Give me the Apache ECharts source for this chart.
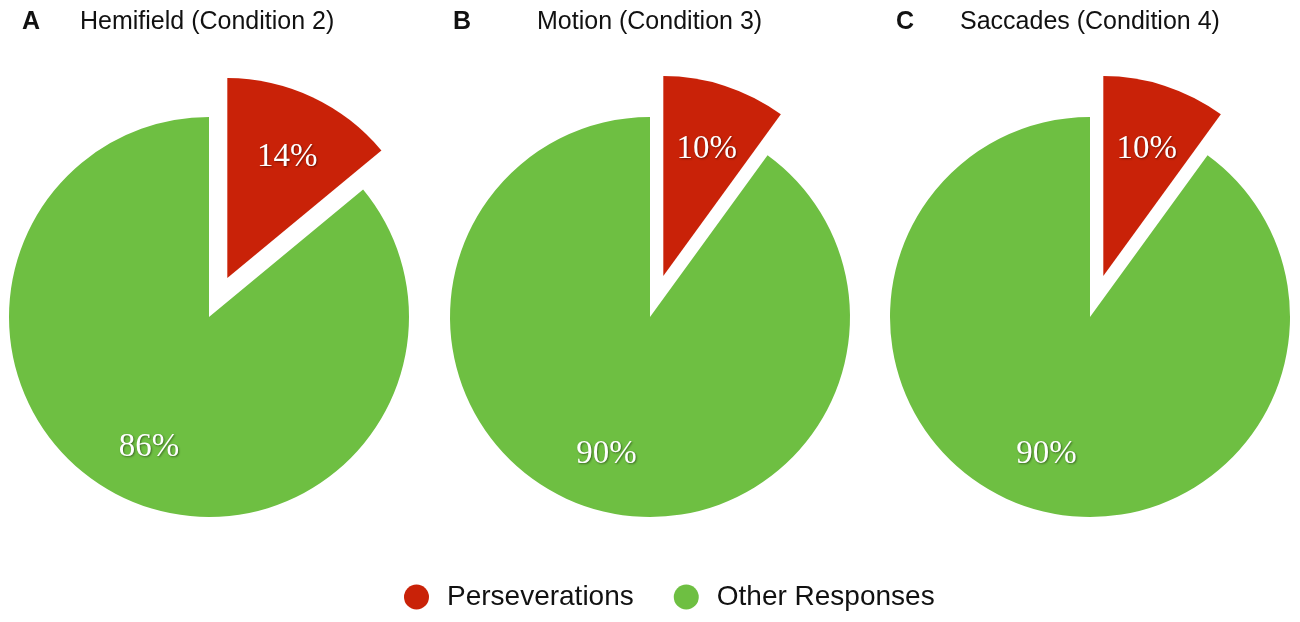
<!DOCTYPE html>
<html>
<head>
<meta charset="utf-8">
<script src="https://cdn.jsdelivr.net/npm/echarts@6/dist/echarts.min.js"></script>
<style>
  html, body { margin: 0; padding: 0; background: #fff; }
  #chart { width: 1300px; height: 622px; }
</style>
</head>
<body>
<div id="chart"></div>
<script>
var categories = ["Perseverations", "Other Responses"];
var panelLetters = ["A", "B", "C"];
var panelTitles = ["Hemifield (Condition 2)", "Motion (Condition 3)", "Saccades (Condition 4)"];
var perseverations = [14, 10, 10];
var otherResponses = [86, 90, 90];
var colors = ["#c92208", "#6ebf42"];

var centersX = [209, 650, 1090];
var letterX = [22, 453, 896];
var titleX = [80, 537, 960];
// nudge the percentage labels a little lower
var labelDy = [7, 3];

var chart = echarts.init(document.getElementById("chart"));

var titles = [], series = [];
for (var i = 0; i < 3; i++) {
    titles.push({
        text: panelLetters[i], left: letterX[i], top: 9, padding: 0,
        textStyle: { fontFamily: "Liberation Sans", fontSize: 25, fontWeight: "bold", color: "#111", lineHeight: 26 }
    });
    titles.push({
        text: panelTitles[i], left: titleX[i], top: 9, padding: 0,
        textStyle: { fontFamily: "Liberation Sans", fontSize: 25, fontWeight: "normal", color: "#111", lineHeight: 26 }
    });
    var vals = [perseverations[i], otherResponses[i]];
    // the slices themselves
    series.push({
        type: "pie",
        center: [centersX[i], 317],
        radius: 200,
        startAngle: 90,
        clockwise: true,
        selectedMode: "multiple",
        selectedOffset: 43,
        silent: true,
        animation: false,
        label: { show: false },
        labelLine: { show: false },
        data: categories.map(function(c, k) {
            return { name: c, value: vals[k], selected: k === 0, itemStyle: { color: colors[k] } };
        })
    });
    // a transparent ring to place the percentage labels further out
    series.push({
        type: "pie",
        center: [centersX[i], 317],
        radius: [76, 200],
        startAngle: 90,
        clockwise: true,
        selectedMode: "multiple",
        selectedOffset: 43,
        silent: true,
        animation: false,
        itemStyle: { color: "rgba(0,0,0,0)" },
        labelLine: { show: false },
        label: {
            show: true, position: "inside",
            formatter: "{c}%",
            fontFamily: "Liberation Serif", fontSize: 33, color: "#fff",
            textShadowColor: "rgba(0,0,0,0.45)", textShadowBlur: 2, textShadowOffsetX: 1, textShadowOffsetY: 1
        },
        labelLayout: function(p) {
            return { dy: labelDy[p.dataIndex] };
        },
        data: categories.map(function(c, k) {
            return { name: c, value: vals[k], selected: k === 0 };
        })
    });
}

var option = {
    backgroundColor: "#fff",
    title: titles,
    legend: {
        bottom: 6,
        left: 399,
        icon: "circle",
        itemWidth: 25,
        itemHeight: 25,
        itemGap: 40,
        selectedMode: false,
        textStyle: { fontFamily: "Liberation Sans", fontSize: 28, color: "#111", padding: [0, 0, 0, 13] },
        data: categories.map(function(c, k) {
            return { name: c, itemStyle: { color: colors[k] } };
        })
    },
    series: series
};
chart.setOption(option);
</script>
</body>
</html>
